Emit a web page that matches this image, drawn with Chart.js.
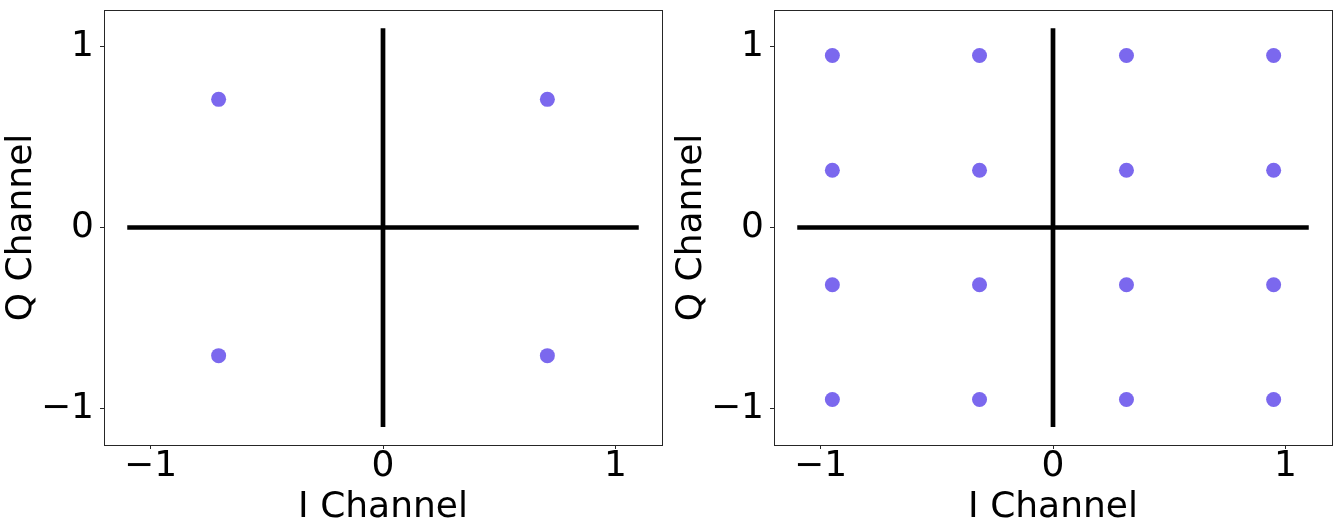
<!DOCTYPE html>
<html>
<head>
<meta charset="utf-8">
<script src="https://cdn.jsdelivr.net/npm/chart.js@4/dist/chart.umd.min.js"></script>
<style>
  html, body { margin: 0; padding: 0; background: #ffffff; }
  #wrap { position: relative; width: 1342px; height: 531px; overflow: hidden; }
  canvas { position: absolute; top: 0; }
  #c1 { left: 0px; }
  #c2 { left: 670px; }
</style>
</head>
<body>
<div id="wrap">
  <canvas id="c1" width="671" height="531"></canvas>
  <canvas id="c2" width="672" height="531"></canvas>
</div>
<script>
// ---- Data ----
const QPSK_I = [-0.707, 0.707, -0.707, 0.707];
const QPSK_Q = [0.707, 0.707, -0.707, -0.707];

const QAM16_I = [-0.949, -0.316, 0.316, 0.949,
                 -0.949, -0.316, 0.316, 0.949,
                 -0.949, -0.316, 0.316, 0.949,
                 -0.949, -0.316, 0.316, 0.949];
const QAM16_Q = [0.949, 0.949, 0.949, 0.949,
                 0.316, 0.316, 0.316, 0.316,
                 -0.316, -0.316, -0.316, -0.316,
                 -0.949, -0.949, -0.949, -0.949];

const HLINE_X = [-1.1, 1.1];
const HLINE_Y = [0, 0];
const VLINE_X = [0, 0];
const VLINE_Y = [-1.1, 1.1];

const TICK_VALUES = [-1, 0, 1];
const TICK_LABELS = ['\u22121', '0', '1'];

const AXIS_MIN = -1.2;
const AXIS_MAX = 1.2;

const X_TITLE = 'I Channel';
const Y_TITLE = 'Q Channel';

// ---- Helpers ----
function zip(xs, ys) { return xs.map((x, i) => ({ x: x, y: ys[i] })); }

const FONT = 'DejaVu Sans';

const boxPlugin = {
  id: 'boxPlugin',
  afterDraw(chart) {
    const a = chart.chartArea;
    const ctx = chart.ctx;
    ctx.save();
    ctx.strokeStyle = '#262626';
    ctx.lineWidth = 1;
    ctx.strokeRect(a.left + 0.5, a.top + 0.5, a.right - a.left, a.bottom - a.top);
    ctx.restore();
  }
};

function makeChart(id, xs, ys, yAxisWidth, padRight) {
  const ctx = document.getElementById(id).getContext('2d');
  const tickOpts = {
    font: { family: FONT, size: 36, lineHeight: 1 },
    color: '#000000',
    callback: (v) => { const k = TICK_VALUES.indexOf(v); return k >= 0 ? TICK_LABELS[k] : ''; },
    maxRotation: 0,
    autoSkip: false
  };
  return new Chart(ctx, {
    type: 'scatter',
    data: {
      datasets: [
        { data: zip(xs, ys), backgroundColor: '#7B68EE', borderWidth: 0,
          pointRadius: 7.5, pointHoverRadius: 7.5, showLine: false },
        { data: zip(HLINE_X, HLINE_Y), showLine: true, borderColor: '#000000',
          borderWidth: 4.7, pointRadius: 0, borderCapStyle: 'butt', fill: false },
        { data: zip(VLINE_X, VLINE_Y), showLine: true, borderColor: '#000000',
          borderWidth: 4.7, pointRadius: 0, borderCapStyle: 'butt', fill: false }
      ]
    },
    options: {
      responsive: false,
      animation: false,
      events: [],
      devicePixelRatio: 1,
      layout: { padding: { top: 10, right: padRight, left: 0, bottom: 0 } },
      plugins: { legend: { display: false }, tooltip: { enabled: false } },
      scales: {
        x: {
          type: 'linear', position: 'bottom', min: AXIS_MIN, max: AXIS_MAX,
          afterBuildTicks: (s) => { s.ticks = TICK_VALUES.map(v => ({ value: v })); },
          afterFit: (s) => { s.height = 86; s.paddingLeft = 0; s.paddingRight = 0; s.paddingTop = 0; s.paddingBottom = 0; },
          ticks: Object.assign({}, tickOpts, { padding: 0 }),
          grid: { display: true, drawOnChartArea: false, drawTicks: true, tickLength: 4, color: '#262626', lineWidth: 1 },
          border: { display: false },
          title: { display: true, text: X_TITLE, color: '#000000',
                   font: { family: FONT, size: 36, lineHeight: 1.2 }, padding: { top: 0, bottom: 2 } }
        },
        y: {
          type: 'linear', position: 'left', min: AXIS_MIN, max: AXIS_MAX,
          afterBuildTicks: (s) => { s.ticks = TICK_VALUES.map(v => ({ value: v })); },
          afterFit: (s) => { s.width = yAxisWidth; s.paddingLeft = 0; s.paddingRight = 0; s.paddingTop = 0; s.paddingBottom = 0; },
          ticks: Object.assign({}, tickOpts, { padding: 6 }),
          grid: { display: true, drawOnChartArea: false, drawTicks: true, tickLength: 4, color: '#262626', lineWidth: 1 },
          border: { display: false },
          title: { display: true, text: Y_TITLE, color: '#000000',
                   font: { family: FONT, size: 36, lineHeight: 1.2 }, padding: { top: 0, bottom: 0 } }
        }
      }
    },
    plugins: [boxPlugin]
  });
}

makeChart('c1', QPSK_I, QPSK_Q, 104, 9);
makeChart('c2', QAM16_I, QAM16_Q, 104, 10);
</script>
</body>
</html>
